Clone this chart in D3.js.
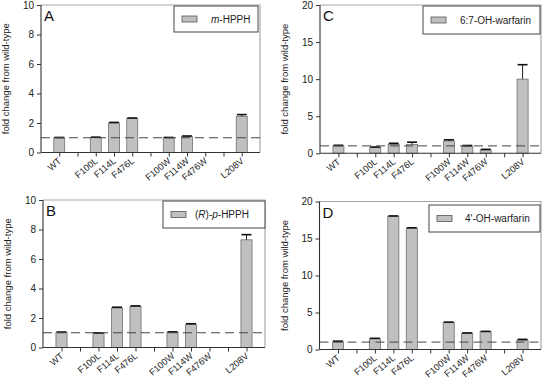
<!DOCTYPE html>
<html>
<head>
<meta charset="utf-8">
<script src="https://cdn.jsdelivr.net/npm/d3@7"></script>
<style>
  body { margin: 0; background: #fff; }
  svg { display: block; font-family: Arial, "Liberation Sans", sans-serif; }
</style>
</head>
<body>
<svg id="chart" width="544" height="380"></svg>
<script>
var groups = [['WT'], ['F100L', 'F114L', 'F476L'], ['F100W', 'F114W', 'F476W'], ['L208V']];
var mutants = groups.flat();

var mHpphMean = [1.0, 1.02, 2.0, 2.3, 1.0, 1.07, null, 2.45];
var mHpphErr  = [0.02, 0.02, 0.04, 0.04, 0.02, 0.05, null, 0.12];
var rHpphMean = [1.02, 0.97, 2.68, 2.78, 1.03, 1.57, null, 7.3];
var rHpphErr  = [0.03, 0.02, 0.05, 0.04, 0.03, 0.04, null, 0.35];
var w67Mean   = [0.98, 0.8, 1.2, 1.2, 1.67, 0.9, 0.45, 10.0];
var w67Err    = [0.1, 0.05, 0.15, 0.3, 0.15, 0.15, 0.08, 1.95];
var w4Mean    = [1.05, 1.45, 18.0, 16.4, 3.65, 2.2, 2.4, 1.25];
var w4Err     = [0.08, 0.06, 0.05, 0.05, 0.05, 0.04, 0.05, 0.12];

var ticksSmall = [0, 2, 4, 6, 8, 10];
var ticksLarge = [0, 5, 10, 15, 20];
var baseline = 1;
var yLabel = 'fold change from wild-type';

// slots: mutants with an empty slot between the groups
var slots = [];
groups.forEach(function (g, i) {
  if (i > 0) slots.push('gap' + i);
  g.forEach(function (m) { slots.push(m); });
});

var panels = [
  { letter: 'A', legend: [['m', true], ['-HPPH', false]], mean: mHpphMean, err: mHpphErr, yMax: 10, ticks: ticksSmall,
    frame: { l: 41, r: 260, t: 5, b: 152.5 }, box: { x: 174, y: 6, w: 84, h: 26, tx: 37 } },
  { letter: 'B', legend: [['(', false], ['R', true], [')-', false], ['p', true], ['-HPPH', false]], mean: rHpphMean, err: rHpphErr, yMax: 10, ticks: ticksSmall,
    frame: { l: 43, r: 265, t: 200, b: 347.5 }, box: { x: 163, y: 201, w: 102, h: 27, tx: 32 } },
  { letter: 'C', legend: [['6:7-OH-warfarin', false]], mean: w67Mean, err: w67Err, yMax: 20, ticks: ticksLarge,
    frame: { l: 320, r: 541, t: 5, b: 153.3 }, box: { x: 423, y: 6, w: 117, h: 28, tx: 37 } },
  { letter: 'D', legend: [["4'-OH-warfarin", false]], mean: w4Mean, err: w4Err, yMax: 20, ticks: ticksLarge,
    frame: { l: 319.5, r: 541, t: 201.5, b: 349.5 }, box: { x: 429, y: 205, w: 111, h: 27, tx: 36 } }
];

var svg = d3.select('#chart');
svg.append('rect').attr('width', 544).attr('height', 380).attr('fill', '#fff');

panels.forEach(drawPanel);

function drawPanel(p) {
  var f = p.frame,
      g = svg.append('g');

  var x = d3.scalePoint().domain(slots).range([f.l, f.r]).padding(1);
  var barW = x.step() * 0.6;
  var y = d3.scaleLinear().domain([0, p.yMax]).range([f.b, f.t]);

  var data = mutants.map(function (m, i) {
    return { name: m, value: p.mean[i], err: p.err[i] };
  }).filter(function (d) { return d.value != null; });

  // light frame top/right
  g.append('path')
      .attr('d', 'M' + f.l + ',' + f.t + 'H' + f.r + 'V' + f.b)
      .attr('fill', 'none')
      .attr('stroke', '#a8a8a8')
      .attr('stroke-width', 1.2);

  // bars
  g.append('g').selectAll('rect')
    .data(data)
    .enter().append('rect')
      .attr('x', function (d) { return x(d.name) - barW / 2; })
      .attr('y', function (d) { return y(d.value); })
      .attr('width', barW)
      .attr('height', function (d) { return y(0) - y(d.value); })
      .attr('fill', '#c0c0c0')
      .attr('stroke', '#707070')
      .attr('stroke-width', 0.8);

  // upper error bars
  var eb = g.append('g').selectAll('g')
    .data(data)
    .enter().append('g');

  eb.append('line')
      .attr('x1', function (d) { return x(d.name); })
      .attr('x2', function (d) { return x(d.name); })
      .attr('y1', function (d) { return y(d.value); })
      .attr('y2', function (d) { return y(d.value + d.err); })
      .attr('stroke', '#222')
      .attr('stroke-width', 1);

  eb.append('line')
      .attr('x1', function (d) { return x(d.name) - barW * 0.45; })
      .attr('x2', function (d) { return x(d.name) + barW * 0.45; })
      .attr('y1', function (d) { return y(d.value + d.err); })
      .attr('y2', function (d) { return y(d.value + d.err); })
      .attr('stroke', '#111')
      .attr('stroke-width', 1.6);

  // reference line at 1
  g.append('line')
      .attr('x1', f.l)
      .attr('x2', f.r)
      .attr('y1', y(baseline))
      .attr('y2', y(baseline))
      .attr('stroke', '#444')
      .attr('stroke-width', 1)
      .attr('stroke-dasharray', '9,5');

  // axes
  var yAxis = g.append('g')
      .attr('transform', 'translate(' + f.l + ',0)')
      .call(d3.axisLeft(y).tickValues(p.ticks).tickSize(4).tickPadding(3).tickFormat(d3.format('d')));

  var xAxis = g.append('g')
      .attr('transform', 'translate(0,' + f.b + ')')
      .call(d3.axisBottom(x).tickSize(4).tickPadding(2)
        .tickFormat(function (d) { return d.indexOf('gap') === 0 ? '' : d; }));

  [yAxis, xAxis].forEach(function (a) {
    a.select('.domain').attr('stroke', '#333').attr('stroke-width', 1.1);
    a.selectAll('.tick line').attr('stroke', '#333');
    a.selectAll('text').attr('fill', '#222').attr('font-family', 'Arial, "Liberation Sans", sans-serif');
  });
  yAxis.select('.domain').attr('d', 'M0,' + f.b + 'V' + f.t);
  xAxis.select('.domain').attr('d', 'M' + f.l + ',0H' + f.r);
  yAxis.selectAll('text').attr('font-size', 10);

  xAxis.selectAll('text')
      .attr('font-size', 9.2)
      .attr('text-anchor', 'end')
      .attr('x', 0)
      .attr('y', 0)
      .attr('dy', '0.35em')
      .attr('transform', 'translate(0,7) rotate(-40)');

  // y label
  g.append('text')
      .attr('transform', 'translate(' + (f.l - 32) + ',' + ((f.t + f.b) / 2) + ') rotate(-90)')
      .attr('text-anchor', 'middle')
      .attr('font-size', 9.5)
      .attr('fill', '#222')
      .text(yLabel);

  // panel letter
  g.append('text')
      .attr('x', f.l + 3)
      .attr('y', f.t + 16)
      .attr('font-size', 15)
      .attr('fill', '#111')
      .text(p.letter);

  // legend
  var b = p.box;
  g.append('rect')
      .attr('x', b.x)
      .attr('y', b.y)
      .attr('width', b.w)
      .attr('height', b.h)
      .attr('fill', '#fff')
      .attr('stroke', '#444')
      .attr('stroke-width', 1);

  g.append('rect')
      .attr('x', b.x + 8)
      .attr('y', b.y + b.h / 2 - 3)
      .attr('width', 15)
      .attr('height', 6)
      .attr('fill', '#c0c0c0')
      .attr('stroke', '#555')
      .attr('stroke-width', 0.8);

  var lt = g.append('text')
      .attr('x', b.x + b.tx)
      .attr('y', b.y + b.h / 2 + 3.5)
      .attr('font-size', 10)
      .attr('fill', '#222');

  p.legend.forEach(function (part) {
    lt.append('tspan')
        .attr('font-style', part[1] ? 'italic' : 'normal')
        .text(part[0]);
  });
}
</script>
</body>
</html>
